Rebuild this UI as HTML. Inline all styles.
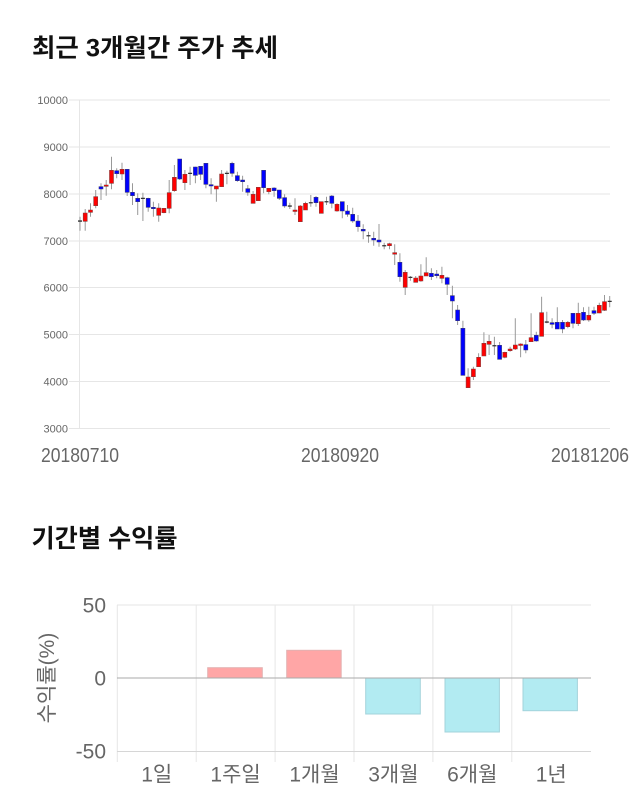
<!DOCTYPE html>
<html><head><meta charset="utf-8"><style>
html,body{margin:0;padding:0;background:#fff;}
svg{display:block;}
</style></head><body>
<svg width="640" height="810" viewBox="0 0 640 810" xmlns="http://www.w3.org/2000/svg">
<rect width="640" height="810" fill="#fff"/>
<text x="32" y="56.5" font-family="'Liberation Sans','Noto Sans CJK KR',sans-serif" font-weight="bold" font-size="25" fill="#111" textLength="246" lengthAdjust="spacingAndGlyphs">최근 3개월간 주가 추세</text>
<text x="31.5" y="547" font-family="'Liberation Sans','Noto Sans CJK KR',sans-serif" font-weight="bold" font-size="25" fill="#111" textLength="146" lengthAdjust="spacingAndGlyphs">기간별 수익률</text>

<g stroke="#e6e6e6" stroke-width="1">
<line x1="69" y1="100" x2="610" y2="100"/>
<line x1="69" y1="147" x2="610" y2="147"/>
<line x1="69" y1="194" x2="610" y2="194"/>
<line x1="69" y1="241" x2="610" y2="241"/>
<line x1="69" y1="287.5" x2="610" y2="287.5"/>
<line x1="69" y1="334.5" x2="610" y2="334.5"/>
<line x1="69" y1="381.5" x2="610" y2="381.5"/>
<line x1="69" y1="428.5" x2="610" y2="428.5"/>
<line x1="79.5" y1="100" x2="79.5" y2="428.5"/>
</g>
<g font-family="'Liberation Sans',sans-serif" font-size="11" fill="#666" text-anchor="end">
<text x="68" y="104">10000</text>
<text x="68" y="151">9000</text>
<text x="68" y="198">8000</text>
<text x="68" y="245">7000</text>
<text x="68" y="291.5">6000</text>
<text x="68" y="338.5">5000</text>
<text x="68" y="385.5">4000</text>
<text x="68" y="432.5">3000</text>
</g>
<g font-family="'Liberation Sans',sans-serif" font-size="20" fill="#666">
<text x="41" y="462" textLength="78" lengthAdjust="spacingAndGlyphs">20180710</text>
<text x="301" y="462" textLength="78" lengthAdjust="spacingAndGlyphs">20180920</text>
<text x="551" y="462" textLength="78" lengthAdjust="spacingAndGlyphs">20181206</text>
</g>

<path fill="none" stroke="#999" stroke-width="1" d="M80 216.7V230.7M85.2 209V230.7M90.5 203.3V216.7M95.7 190V208.3M101 183.3V200M106.2 180V195.7M111.5 156.7V189.3M116.7 168.3V178.3M122 162.7V180M127.2 169.3V196M132.5 183.3V205M137.7 193.3V215M142.9 192.7V221M148.2 197.7V211.7M153.4 201.7V216.7M158.7 203.3V221.7M163.9 208.3V213.3M169.2 180V213.3M174.4 165V191.7M179.7 159V180M184.9 170V190M190.1 166.7V185M195.4 166.7V183.3M200.6 166.7V180M205.9 163.3V188.3M211.1 178.3V194.3M216.4 186V201.7M221.6 170V186.7M226.9 170.7V184.3M232.1 161.7V176.7M237.4 171.7V181.7M242.6 175.7V191.7M247.8 185V195.7M253.1 191V203.3M258.3 187.3V200.7M263.6 170.3V193.3M268.8 188.3V194.3M274.1 187.3V196.7M279.3 190V200M284.6 194.3V207.7M289.8 202.7V209M295 198.3V215M300.3 205V221.7M305.5 201.7V210M310.8 195V206.7M316 196V206.7M321.3 201.7V213.3M326.5 196.7V205M331.8 195V208.3M337 203.3V211.7M342.3 201.7V218.3M347.5 205V216.7M352.7 207.7V222.7M358 215V231.7M363.2 224.3V239.3M368.5 231.7V242.7M373.7 231.7V245.7M379 224V246.7M384.2 242.7V249.3M389.5 242.7V249.3M394.7 244.3V265M399.9 253.3V281.7M405.2 270V295M410.4 276V280.7M415.7 276V282.3M420.9 264.3V281.7M426.2 257.3V276M431.4 268.3V280M436.7 270V278.3M441.9 266.7V283.3M447.2 276.7V295M452.4 285.7V318.3M457.6 305V325M462.9 320.7V375.3M468.1 368.3V387.7M473.4 366.7V380M478.6 353.3V366.7M483.9 332.3V356M489.1 335V355M494.4 336.7V355M499.6 342V359.3M504.8 351.7V358.3M510.1 346.7V351.7M515.3 318.3V350M520.6 343.3V357.3M525.8 340V353.3M531.1 313.3V341.7M536.3 331.7V341.7M541.6 296.7V336.3M546.8 311.7V323.3M552.1 318.3V328.3M557.3 307.3V329M562.5 320V333.3M567.8 321V328.3M573 313.3V328.3M578.3 302.7V326M583.5 307.3V321M588.8 306.7V321.7M594 306.7V315M599.3 302.7V313.3M604.5 295V311M609.7 296V307.3"/>

<path fill="#f00" stroke="#8a3a3a" stroke-width="0.6" d="M83.2 213h4V221.3h-4ZM88.5 210h4V212.3h-4ZM93.7 196.7h4V205.7h-4ZM104.2 185h4V186.3h-4ZM109.5 170.3h4V183.3h-4ZM120 169.3h4V174h-4ZM156.7 208h4V215.3h-4ZM161.9 208.3h4V212.7h-4ZM167.2 192.7h4V208.3h-4ZM172.4 177.3h4V190.7h-4ZM182.9 174.3h4V182.7h-4ZM214.4 186h4V189h-4ZM219.6 174h4V186.7h-4ZM251.1 194.3h4V203.3h-4ZM256.3 187.3h4V200.7h-4ZM266.8 188.3h4V191.7h-4ZM293 210h4V211.5h-4ZM298.3 206h4V221.7h-4ZM303.5 203.3h4V210h-4ZM319.3 201.7h4V213.3h-4ZM335 204.3h4V211h-4ZM387.5 243.7h4V245.7h-4ZM392.7 252.7h4V254.2h-4ZM403.2 272.3h4V287.3h-4ZM413.7 278h4V282.3h-4ZM418.9 276h4V281h-4ZM424.2 272.7h4V276h-4ZM439.9 275.3h4V278.3h-4ZM466.1 377h4V387.7h-4ZM471.4 369h4V376.7h-4ZM476.6 357.3h4V366.7h-4ZM481.9 343.3h4V356h-4ZM487.1 341.3h4V344.3h-4ZM502.8 352.3h4V357.3h-4ZM508.1 349h4V350.7h-4ZM513.3 345h4V349h-4ZM518.6 344h4V345.5h-4ZM529.1 337.7h4V341.7h-4ZM539.6 312.7h4V336.3h-4ZM565.8 322.3h4V326.7h-4ZM576.3 313.3h4V323.7h-4ZM586.8 315.3h4V320h-4ZM597.3 305.3h4V313h-4ZM602.5 301.7h4V310.3h-4Z"/>

<path fill="#00f" stroke="#3a3a7a" stroke-width="0.6" d="M99 186.7h4V189h-4ZM114.7 170.7h4V173.7h-4ZM125.2 169.3h4V192.3h-4ZM130.5 192.3h4V195.7h-4ZM135.7 198.3h4V201.7h-4ZM146.2 198.3h4V207.3h-4ZM151.4 207.3h4V208.7h-4ZM177.7 159h4V179h-4ZM193.4 167h4V175.3h-4ZM198.6 166.3h4V174.3h-4ZM203.9 163.3h4V184.3h-4ZM209.1 184.7h4V186h-4ZM230.1 163.3h4V173.3h-4ZM235.4 175.7h4V180.7h-4ZM240.6 180h4V181.7h-4ZM245.8 188.7h4V192.3h-4ZM261.6 170.3h4V187.7h-4ZM272.1 188h4V190.7h-4ZM277.3 190h4V198.3h-4ZM282.6 197.7h4V206h-4ZM314 197.3h4V202.7h-4ZM329.8 196h4V203.3h-4ZM340.3 201.7h4V211h-4ZM345.5 211h4V214.3h-4ZM350.7 214.3h4V221h-4ZM356 221h4V226.7h-4ZM361.2 229.3h4V231h-4ZM371.7 238.3h4V240h-4ZM377 240h4V242h-4ZM397.9 262.3h4V276.7h-4ZM429.4 273.3h4V276.7h-4ZM434.7 274h4V275.7h-4ZM445.2 277.7h4V284.3h-4ZM450.4 295.7h4V301h-4ZM455.6 310h4V320.7h-4ZM460.9 328.3h4V375.3h-4ZM497.6 345.3h4V359.3h-4ZM523.8 344.7h4V350h-4ZM534.3 335.3h4V341h-4ZM550.1 322.7h4V324.3h-4ZM555.3 322.3h4V329h-4ZM560.5 322.3h4V329h-4ZM571 313.3h4V323.3h-4ZM581.5 312.3h4V320h-4ZM592 310.7h4V313.3h-4Z"/>

<path fill="#333" d="M78 220.4h4v1.3h-4ZM140.9 197.7h4v1.3h-4ZM188.1 172.7h4v1.3h-4ZM224.9 172.7h4v1.3h-4ZM287.8 205.4h4v1.3h-4ZM308.8 202.1h4v1.3h-4ZM324.5 201.1h4v1.3h-4ZM366.5 235.1h4v1.3h-4ZM382.2 245.1h4v1.3h-4ZM408.4 276.7h4v1.3h-4ZM492.4 345.1h4v1.3h-4ZM544.8 321.4h4v1.3h-4ZM607.7 300.7h4v1.3h-4Z"/>

<!-- bar chart -->
<g stroke="#e6e6e6" stroke-width="1">
<line x1="117" y1="605" x2="591" y2="605"/>
<line x1="117.3" y1="605" x2="117.3" y2="762"/>
<line x1="196.2" y1="605" x2="196.2" y2="762"/>
<line x1="275.1" y1="605" x2="275.1" y2="762"/>
<line x1="354" y1="605" x2="354" y2="762"/>
<line x1="432.9" y1="605" x2="432.9" y2="762"/>
<line x1="511.8" y1="605" x2="511.8" y2="762"/>
</g>
<line x1="117" y1="751.5" x2="591" y2="751.5" stroke="#d6d6d6" stroke-width="1"/>

<g stroke-width="1">
<rect x="207.7" y="667.7" width="54.6" height="10.3" fill="#ffa6a6" stroke="#e3b1b1"/>
<rect x="286.7" y="650.3" width="54.5" height="27.7" fill="#ffa6a6" stroke="#e3b1b1"/>
<rect x="365.7" y="678" width="54.6" height="36" fill="#b2ebf2" stroke="#a3d3db"/>
<rect x="445" y="678" width="54.4" height="54" fill="#b2ebf2" stroke="#a3d3db"/>
<rect x="523" y="678" width="54.4" height="32.7" fill="#b2ebf2" stroke="#a3d3db"/>
</g>
<line x1="117" y1="678" x2="591" y2="678" stroke="#aaa" stroke-width="1"/>

<g font-family="'Liberation Sans','Noto Sans CJK KR',sans-serif" font-size="21" fill="#666">
<text x="106" y="612.5" text-anchor="end">50</text>
<text x="106" y="685.5" text-anchor="end">0</text>
<text x="106" y="758.5" text-anchor="end">-50</text>
<text text-anchor="middle" transform="translate(54,678) rotate(-90)">수익률(%)</text>
<text x="156.7" y="781.5" text-anchor="middle">1일</text>
<text x="235.6" y="781.5" text-anchor="middle">1주일</text>
<text x="314.5" y="781.5" text-anchor="middle">1개월</text>
<text x="393.4" y="781.5" text-anchor="middle">3개월</text>
<text x="472.3" y="781.5" text-anchor="middle">6개월</text>
<text x="551.2" y="781.5" text-anchor="middle">1년</text>
</g>
</svg>
</body></html>
